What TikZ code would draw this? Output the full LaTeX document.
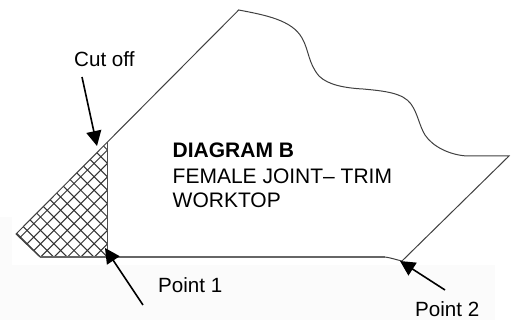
\documentclass[tikz,border=0pt]{standalone}
\usepackage{fontspec}
\setmainfont{Liberation Sans}
\usetikzlibrary{arrows.meta}
\tikzset{
  lbl/.style={inner sep=0pt,anchor=base west,font=\fontsize{20.6}{24}\selectfont},
  body/.style={inner sep=0pt,anchor=base west,font=\fontsize{21}{24}\selectfont},
  outline/.style={draw=black!75,line width=1pt},
  hatch/.style={draw=black!80,line width=1pt},
  pointer/.style={draw=black,line width=1.6pt,-{Triangle[length=15pt,width=15pt]}}
}
\begin{document}
\begin{tikzpicture}[x=1pt,y=-1pt]
\useasboundingbox (0,0) rectangle (517,320);
\fill[black!1.5] (0,217) rectangle (12,320);
\fill[black!1.5] (0,265) rectangle (495,320);
% hatched cut-off
\begin{scope}
\clip (107.5,142) -- (16,234) -- (40,257) -- (107.5,257) -- cycle;
\fill[white] (0,130) rectangle (120,270);
\foreach \k in {-30,...,30}{
  \draw[hatch] ({107.5+13.4*\k-150},{150-150}) -- ({107.5+13.4*\k+250},{150+250});
  \draw[hatch] ({107.5+13.4*\k+150},{150-150}) -- ({107.5+13.4*\k-250},{150+250});
}
\end{scope}
\draw[outline] (107.5,142) -- (16,234) -- (40,257);
\draw[draw=black!60,line width=1.5pt] (40,257) -- (385,257);
\draw[outline] (385,257)
  .. controls (392,258) and (397,260) .. (402,261)
  -- (509,156) -- (467,156)
  .. controls (450,155) and (433,147) .. (425,135)
  .. controls (419,125) and (418,114) .. (411,104)
  .. controls (403,93) and (385,91) .. (363,89)
  .. controls (345,88) and (328,85) .. (319,76)
  .. controls (308,63) and (309,50) .. (302,38)
  .. controls (292,20) and (265,15) .. (238.7,10)
  -- (107.5,142);
\draw[draw=black!70,line width=1.2pt] (107.5,142) -- (107.5,257);
\node[lbl] (cut) at (74,66.5) {Cut off};
\node[body] (title1) at (172.5,157.7) {\textbf{DIAGRAM B}};
\node[body] (title2) at (172.5,184) {FEMALE JOINT-- TRIM};
\node[body] (title3) at (172.5,207.7) {WORKTOP};
\node[lbl] (p1) at (158,293) {Point 1};
\node[lbl] (p2) at (415,316.5) {Point 2};
\coordinate (cutT) at (82,77);
\coordinate (cutH) at (97,146);
\coordinate (p1T) at (143,305);
\coordinate (p1H) at (105,248);
\coordinate (p2T) at (445,290);
\coordinate (p2H) at (400,261);
\draw[pointer] (cutT) -- (cutH);
\draw[pointer] (p1T) -- (p1H);
\draw[pointer] (p2T) -- (p2H);
\end{tikzpicture}
\end{document}
